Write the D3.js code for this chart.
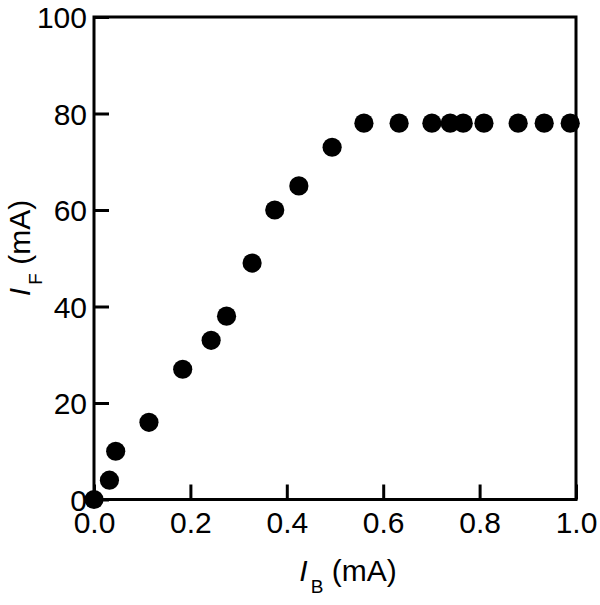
<!DOCTYPE html>
<html>
<head>
<meta charset="utf-8">
<script src="https://cdn.jsdelivr.net/npm/d3@7"></script>
<style>
  html, body { margin: 0; padding: 0; background: #fff; }
  svg { display: block; }
  text { font-family: "Liberation Sans", Arial, Helvetica, sans-serif; fill: #000; }
</style>
</head>
<body>
<svg id="chart" width="600" height="605"></svg>
<script>
// Data
const ibValues = [0, 0.032, 0.045, 0.114, 0.184, 0.243, 0.275, 0.328, 0.375, 0.425, 0.494, 0.560, 0.633, 0.701, 0.739, 0.766, 0.809, 0.880, 0.934, 0.988];
const ifValues = [0, 4, 10, 16, 27, 33, 38, 49, 60, 65, 73, 78, 78, 78, 78, 78, 78, 78, 78, 78];
const xTicks = [0, 0.2, 0.4, 0.6, 0.8, 1.0];
const yTicks = [0, 20, 40, 60, 80, 100];

const W = 600, H = 605;
const margin = { left: 94, right: 24, top: 17, bottom: 105.5 };
const svg = d3.select("#chart");

const x = d3.scaleLinear().domain([0, 1]).range([margin.left, W - margin.right]);
const y = d3.scaleLinear().domain([0, 100]).range([H - margin.bottom, margin.top]);

const tickFont = 30;

// X axis
const gx = svg.append("g")
  .attr("transform", `translate(0,${y(0)})`)
  .call(d3.axisBottom(x).tickValues(xTicks).tickFormat(d3.format(".1f"))
    .tickSizeInner(-15).tickSizeOuter(0).tickPadding(12));
gx.select(".domain").remove();
gx.selectAll(".tick line").attr("stroke", "#000").attr("stroke-width", 3);
gx.selectAll(".tick text").attr("font-size", tickFont).attr("dy", "0.72em")
  .attr("y", 12);

// Y axis
const gy = svg.append("g")
  .attr("transform", `translate(${x(0)},0)`)
  .call(d3.axisLeft(y).tickValues(yTicks).tickFormat(d3.format("d"))
    .tickSizeInner(-15).tickSizeOuter(0).tickPadding(7));
gy.select(".domain").remove();
gy.selectAll(".tick line").attr("stroke", "#000").attr("stroke-width", 3);
gy.selectAll(".tick text").attr("font-size", tickFont).attr("x", -7).attr("dy", "0.36em");

// Frame
svg.append("rect")
  .attr("x", x(0)).attr("y", y(100))
  .attr("width", x(1) - x(0)).attr("height", y(0) - y(100))
  .attr("fill", "none").attr("stroke", "#000").attr("stroke-width", 3);

// Points
svg.append("g").selectAll("circle")
  .data(ibValues.map((v, i) => [v, ifValues[i]]))
  .join("circle")
  .attr("cx", d => x(d[0]))
  .attr("cy", d => y(d[1]))
  .attr("r", 9.6)
  .attr("fill", "#000");

// Axis titles
const titleFont = 30;
const subFont = 19;
const xt = svg.append("text")
  .attr("x", 348).attr("y", 581)
  .attr("text-anchor", "middle")
  .attr("font-size", titleFont);
xt.append("tspan").attr("font-style", "italic").text("I");
xt.append("tspan").attr("font-size", subFont).attr("dx", 3).attr("dy", 12).text("B");
xt.append("tspan").attr("dy", -12).text(" (mA)");

const yt = svg.append("text")
  .attr("transform", `translate(30,248) rotate(-90)`)
  .attr("text-anchor", "middle")
  .attr("font-size", titleFont);
yt.append("tspan").attr("font-style", "italic").text("I");
yt.append("tspan").attr("font-size", subFont).attr("dx", 3).attr("dy", 12).text("F");
yt.append("tspan").attr("dy", -12).text(" (mA)");
</script>
</body>
</html>
